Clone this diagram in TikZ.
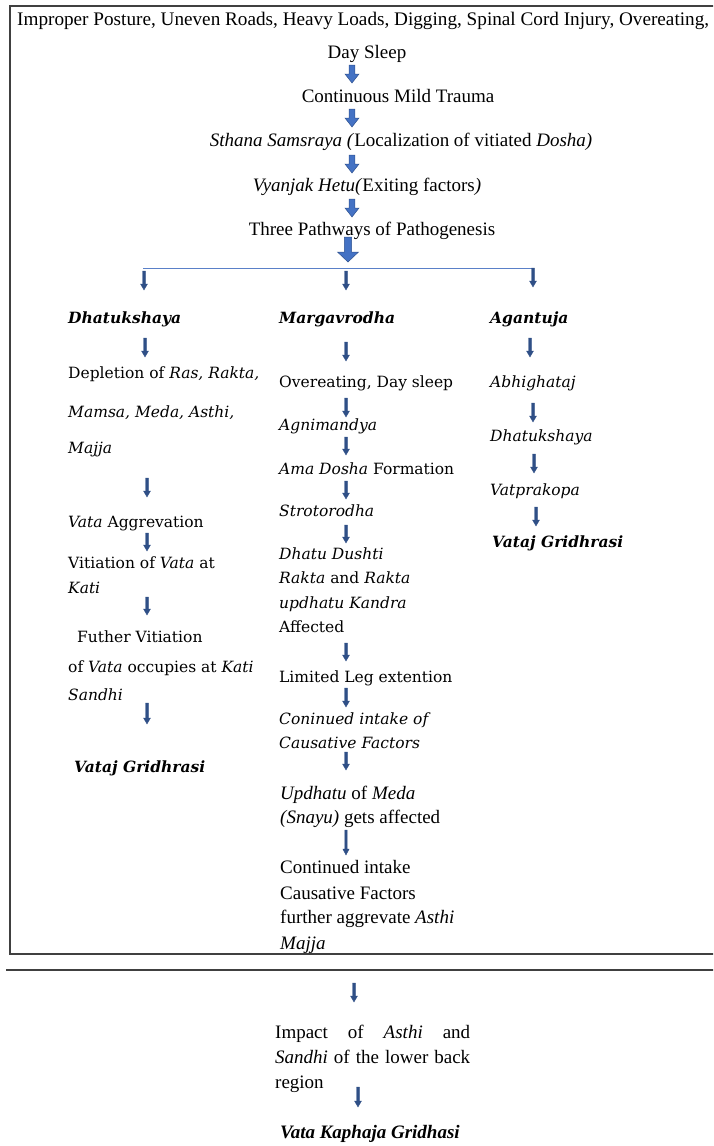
\documentclass[tikz,border=0pt]{standalone}
\usepackage{fontspec}
\setmainfont{Liberation Serif}
\newfontfamily\colfont{DejaVu Serif}
\definecolor{boxgray}{HTML}{404040}
\definecolor{arrfill}{HTML}{4472C4}
\definecolor{arredge}{HTML}{2F528F}
\definecolor{colarrc}{HTML}{2F4F86}
\definecolor{branchblue}{HTML}{5A80C8}
\tikzset{
  x=1pt, y=1pt,
  tm/.style={inner sep=0pt, anchor=base, font=\fontsize{19}{23}\selectfont},
  tml/.style={inner sep=0pt, anchor=base west, font=\fontsize{19}{23}\selectfont},
  tmb/.style={inner sep=0pt, anchor=base west, font=\fontsize{19}{23}\selectfont\bfseries\itshape},
  cf/.style={inner sep=0pt, anchor=base west, font=\colfont\fontsize{15.5}{19}\selectfont},
  cfb/.style={inner sep=0pt, anchor=base west, font=\colfont\fontsize{15.5}{19}\selectfont\bfseries\itshape},
  pics/dnarrow/.style n args={4}{code={
     \path[pic actions] (-#2,0) -- (-#2,-#1+#4) -- (-#3,-#1+#4) -- (0,-#1) -- (#3,-#1+#4) -- (#2,-#1+#4) -- (#2,0) -- cycle;}},
  toparr/.style={fill=arrfill, draw=arredge, line width=0.5pt},
  colarr/.style={fill=colarrc, draw=colarrc, line width=0.3pt},
  boxline/.style={draw=boxgray, line width=1.8pt},
  branch/.style={draw=branchblue, line width=1.5pt},
}
\begin{document}
\begin{tikzpicture}
\useasboundingbox (0,0) rectangle (713,-1146);
\clip (0,0) rectangle (713,-1146);
% frame and separator
\draw[boxline] (10,-6) rectangle (780,-954);
\coordinate (sepL) at (6,-970);
\coordinate (sepR) at (780,-970);
\draw[boxline] (sepL) -- (sepR);

% top chain
\node[tml, font=\fontsize{19.2}{23}\selectfont] (t1) at (17,-25) {Improper Posture, Uneven Roads, Heavy Loads, Digging, Spinal Cord Injury, Overeating,};
\node[tm] (t2) at (367,-58) {Day Sleep};
\node[tm] (t3) at (398,-102) {Continuous Mild Trauma};
\node[tm] (t4) at (401,-146) {\textit{Sthana Samsraya (}Localization of vitiated \textit{Dosha)}};
\node[tm] (t5) at (367,-191) {\textit{Vyanjak Hetu(}Exiting factors\textit{)}};
\node[tm] (t6) at (372,-235) {Three Pathways of Pathogenesis};
\pic[toparr] at (352,-65) {dnarrow={18}{2.8}{7}{9}};
\pic[toparr] at (352,-109) {dnarrow={18}{2.8}{7}{9}};
\pic[toparr] at (352,-155) {dnarrow={18}{2.8}{7}{9}};
\pic[toparr] at (352,-199) {dnarrow={18}{2.8}{7}{9}};
\pic[toparr] at (348,-237) {dnarrow={25}{3.7}{10.5}{10}};

% branch line
\coordinate (br1) at (143,-268.5);
\coordinate (br2) at (533,-268.5);
\draw[branch] (br1) -- (br2);
\pic[colarr] at (144,-271) {dnarrow={19}{1.5}{3.5}{6}};
\pic[colarr] at (346,-271) {dnarrow={19}{1.5}{3.5}{6}};
\pic[colarr] at (533,-268) {dnarrow={19}{1.5}{3.5}{6}};

% left column
\node[cfb] (l1) at (68,-323) {Dhatukshaya};
\node[cf] (l2) at (68,-378) {Depletion of \textit{Ras, Rakta,}};
\node[cf] (l3) at (68,-417) {\textit{Mamsa, Meda, Asthi,}};
\node[cf] (l4) at (68,-453) {\textit{Majja}};
\node[cf] (l5) at (68,-527) {\textit{Vata} Aggrevation};
\node[cf] (l6) at (68,-568) {Vitiation of \textit{Vata} at};
\node[cf] (l7) at (68,-593) {\textit{Kati}};
\node[cf] (l8) at (77,-642) {Futher Vitiation};
\node[cf] (l9) at (68,-672) {of \textit{Vata} occupies at \textit{Kati}};
\node[cf] (l10) at (68,-700) {\textit{Sandhi}};
\node[cfb] (l11) at (74,-772) {Vataj Gridhrasi};
\pic[colarr] at (145,-338) {dnarrow={19}{1.5}{3.5}{6}};
\pic[colarr] at (147,-478) {dnarrow={19}{1.5}{3.5}{6}};
\pic[colarr] at (147,-533) {dnarrow={18}{1.5}{3.5}{6}};
\pic[colarr] at (147,-597) {dnarrow={18}{1.5}{3.5}{6}};
\pic[colarr] at (147,-703) {dnarrow={21}{1.5}{3.5}{6}};

% middle column
\node[cfb] (m1) at (279,-323) {Margavrodha};
\node[cf] (m2) at (279,-387) {Overeating, Day sleep};
\node[cf] (m3) at (279,-430) {\textit{Agnimandya}};
\node[cf] (m4) at (279,-474) {\textit{Ama Dosha} Formation};
\node[cf] (m5) at (279,-516) {\textit{Strotorodha}};
\node[cf] (m6) at (279,-559) {\textit{Dhatu Dushti}};
\node[cf] (m7) at (279,-583) {\textit{Rakta} and \textit{Rakta}};
\node[cf] (m8) at (279,-608) {\textit{updhatu Kandra}};
\node[cf] (m9) at (279,-632) {Affected};
\node[cf] (m10) at (279,-682) {Limited Leg extention};
\node[cf] (m11) at (279,-724) {\textit{Coninued intake of}};
\node[cf] (m12) at (279,-748) {\textit{Causative Factors}};
\node[tml] (m13) at (280,-799) {\textit{Updhatu} of \textit{Meda}};
\node[tml] (m14) at (280,-823) {\textit{(Snayu)} gets affected};
\node[tml] (m15) at (280,-873) {Continued intake};
\node[tml] (m16) at (280,-899) {Causative Factors};
\node[tml] (m17) at (280,-923) {further aggrevate \textit{Asthi}};
\node[tml] (m18) at (280,-949) {\textit{Majja}};
\pic[colarr] at (346,-342) {dnarrow={19}{1.5}{3.5}{6}};
\pic[colarr] at (346,-398) {dnarrow={19}{1.5}{3.5}{6}};
\pic[colarr] at (346,-437) {dnarrow={18}{1.5}{3.5}{6}};
\pic[colarr] at (346,-481) {dnarrow={18}{1.5}{3.5}{6}};
\pic[colarr] at (346,-525) {dnarrow={18}{1.5}{3.5}{6}};
\pic[colarr] at (346,-643) {dnarrow={18}{1.5}{3.5}{6}};
\pic[colarr] at (346,-688) {dnarrow={19}{1.5}{3.5}{6}};
\pic[colarr] at (346,-752) {dnarrow={18}{1.5}{3.5}{6}};
\pic[colarr] at (346,-830) {dnarrow={25}{1.2}{3.2}{6}};

% right column
\node[cfb] (r1) at (490,-323) {Agantuja};
\node[cf] (r2) at (490,-387) {\textit{Abhighataj}};
\node[cf] (r3) at (490,-441) {\textit{Dhatukshaya}};
\node[cf] (r4) at (490,-495) {\textit{Vatprakopa}};
\node[cfb] (r5) at (492,-547) {Vataj Gridhrasi};
\pic[colarr] at (530,-338) {dnarrow={19}{1.5}{3.5}{6}};
\pic[colarr] at (533,-403) {dnarrow={19}{1.5}{3.5}{6}};
\pic[colarr] at (534,-454) {dnarrow={19}{1.5}{3.5}{6}};
\pic[colarr] at (536,-507) {dnarrow={19}{1.5}{3.5}{6}};

% bottom part
\pic[colarr] at (354,-983) {dnarrow={19}{1.5}{3.5}{6}};
\node[inner sep=0pt, anchor=north west, text width=195pt, align=justify, font=\fontsize{19}{25}\selectfont] (b1) at (275,-1025)
  {Impact of \textit{Asthi} and\linebreak \textit{Sandhi} of the lower back\linebreak region};
\pic[colarr] at (358,-1087) {dnarrow={20}{1.5}{3.5}{6}};
\node[tmb] (b2) at (280,-1138) {Vata Kaphaja Gridhasi};
\end{tikzpicture}
\end{document}
